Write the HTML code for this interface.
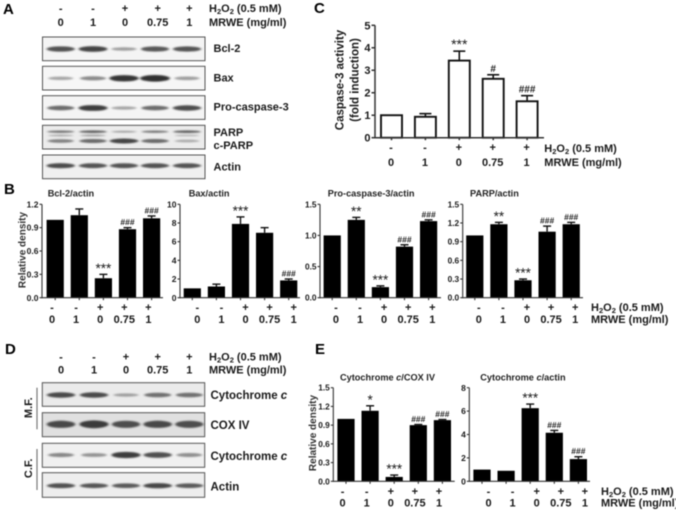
<!DOCTYPE html>
<html lang="en">
<head>
<meta charset="utf-8">
<title>Western blot and densitometry figure</title>
<style>
html,body{margin:0;padding:0;background:#fff;width:676px;height:510px;overflow:hidden}
svg{display:block;filter:blur(0.4px)}
text{font-family:"Liberation Sans",sans-serif;fill:#1a1a1a}
.b{font-weight:bold}
.l{font-weight:bold;font-size:11px}
.p{font-weight:bold;font-size:15px;fill:#000}
.t{font-weight:bold;font-size:9.2px;fill:#222}
.r{font-size:10px;font-weight:bold;fill:#333}
</style>
</head>
<body>
<svg id="fig" xmlns="http://www.w3.org/2000/svg" width="676" height="510" viewBox="0 0 676 510">
<defs>
<filter id="soft" x="-30%" y="-120%" width="160%" height="340%"><feGaussianBlur stdDeviation="1.4 0.9"/></filter>
</defs>

<g id="blots"></g>
<g id="charts"></g>

<text class="p" x="3" y="14">A</text>
<text class="p" x="4" y="194">B</text>
<text class="p" x="314" y="13">C</text>
<text class="p" x="5" y="354">D</text>
<text class="p" x="315" y="354">E</text>

<text class="l" x="209" y="12">H<tspan dy="2" font-size="7.5">2</tspan><tspan dy="-2">O</tspan><tspan dy="2" font-size="7.5">2</tspan><tspan dy="-2"> (0.5 mM)</tspan></text>
<text class="l" x="209" y="26">MRWE (mg/ml)</text>
<text class="l" x="213.5" y="52">Bcl-2</text>
<text class="l" x="213.5" y="81.5">Bax</text>
<text class="l" x="213.5" y="110.5">Pro-caspase-3</text>
<text class="l" x="213.5" y="136">PARP</text>
<text class="l" x="213.5" y="149">c-PARP</text>
<text class="l" x="213.5" y="170.5">Actin</text>

<text class="l" x="209" y="360.5">H<tspan dy="2" font-size="7.5">2</tspan><tspan dy="-2">O</tspan><tspan dy="2" font-size="7.5">2</tspan><tspan dy="-2"> (0.5 mM)</tspan></text>
<text class="l" x="209" y="373.5">MRWE (mg/ml)</text>
<text class="l" style="font-size:11.5px" x="210.5" y="399">Cytochrome <tspan font-style="italic">c</tspan></text>
<text class="l" style="font-size:11.5px" x="210.5" y="429">COX IV</text>
<text class="l" style="font-size:11.5px" x="210.5" y="460">Cytochrome <tspan font-style="italic">c</tspan></text>
<text class="l" style="font-size:11.5px" x="210.5" y="490.5">Actin</text>

<line x1="37" y1="387.7" x2="37" y2="429.3" stroke="#777" stroke-width="1.2"/>
<line x1="37" y1="449" x2="37" y2="490" stroke="#777" stroke-width="1.2"/>
<text class="l" text-anchor="middle" transform="translate(32,407.7) rotate(-90)">M.F.</text>
<text class="l" text-anchor="middle" transform="translate(32,468.3) rotate(-90)">C.F.</text>

<text class="t" x="47.7" y="196.7">Bcl-2/actin</text>
<text class="t" x="188.7" y="196.7">Bax/actin</text>
<text class="t" x="327.7" y="196.7">Pro-caspase-3/actin</text>
<text class="t" x="470" y="196.7">PARP/actin</text>
<text class="t" x="340" y="380.3">Cytochrome <tspan font-style="italic">c</tspan>/COX IV</text>
<text class="t" x="480.3" y="380.3">Cytochrome <tspan font-style="italic">c</tspan>/actin</text>

<text class="r" text-anchor="middle" transform="translate(25.5,250) rotate(-90)">Relative density</text>
<text class="r" text-anchor="middle" transform="translate(316,433) rotate(-90)">Relative density</text>
<text class="b" style="font-size:11.5px" text-anchor="middle" transform="translate(343.5,80) rotate(-90)">Caspase-3 activity</text>
<text class="b" style="font-size:11.5px" text-anchor="middle" transform="translate(358.5,80) rotate(-90)">(fold induction)</text>

<text class="l" x="544.3" y="152">H<tspan dy="2" font-size="7.5">2</tspan><tspan dy="-2">O</tspan><tspan dy="2" font-size="7.5">2</tspan><tspan dy="-2"> (0.5 mM)</tspan></text>
<text class="l" x="544.3" y="166">MRWE (mg/ml)</text>
<text class="l" x="591" y="311">H<tspan dy="2" font-size="7.5">2</tspan><tspan dy="-2">O</tspan><tspan dy="2" font-size="7.5">2</tspan><tspan dy="-2"> (0.5 mM)</tspan></text>
<text class="l" x="591" y="323">MRWE (mg/ml)</text>
<text class="l" x="601" y="495">H<tspan dy="2" font-size="7.5">2</tspan><tspan dy="-2">O</tspan><tspan dy="2" font-size="7.5">2</tspan><tspan dy="-2"> (0.5 mM)</tspan></text>
<text class="l" x="601" y="506.5">MRWE (mg/ml)</text>
</svg>

<script>
// Treatment categories
var h2o2Labels = ['-', '-', '+', '+', '+'];
var mrweLabels = ['0', '1', '0', '0.75', '1'];

// Panel C
var caspaseValues = [1, 0.93, 3.43, 2.62, 1.62];
var caspaseErrors = [0, 0.14, 0.42, 0.18, 0.25];
var caspaseMarks = ['', '', '***', '#', '###'];
var caspaseTicks = ['0', '1', '2', '3', '4', '5'];

// Panel B
var bcl2Values = [1, 1.06, 0.25, 0.88, 1.02];
var bcl2Errors = [0, 0.08, 0.05, 0.02, 0.03];
var bcl2Marks = ['', '', '***', '###', '###'];
var bcl2Ticks = ['0.0', '0.3', '0.6', '0.9', '1.2'];

var baxValues = [1, 1.2, 7.9, 6.95, 1.85];
var baxErrors = [0, 0.25, 0.75, 0.55, 0.15];
var baxMarks = ['', '', '***', '', '###'];
var baxTicks = ['0', '2', '4', '6', '8', '10'];

var procaspValues = [1, 1.25, 0.17, 0.82, 1.23];
var procaspErrors = [0, 0.04, 0.02, 0.03, 0.02];
var procaspMarks = ['', '**', '***', '###', '###'];
var procaspTicks = ['0.0', '0.5', '1.0', '1.5'];

var parpValues = [1, 1.18, 0.28, 1.06, 1.18];
var parpErrors = [0, 0.03, 0.02, 0.09, 0.03];
var parpMarks = ['', '**', '***', '###', '###'];
var parpTicks = ['0.0', '0.3', '0.6', '0.9', '1.2', '1.5'];

// Panel E
var cytcCoxValues = [1, 1.13, 0.07, 0.9, 0.98];
var cytcCoxErrors = [0, 0.08, 0.03, 0.01, 0.01];
var cytcCoxMarks = ['', '*', '***', '###', '###'];
var cytcCoxTicks = ['0.0', '0.3', '0.6', '0.9', '1.2', '1.5'];

var cytcActinValues = [1, 0.9, 6.25, 4.15, 1.9];
var cytcActinErrors = [0, 0, 0.35, 0.2, 0.2];
var cytcActinMarks = ['', '', '***', '###', '###'];
var cytcActinTicks = ['0', '2', '4', '6', '8'];

// Blot band strengths per lane (0-1)
var bandsBcl2 = [0.72, 0.8, 0.22, 0.68, 0.7];
var bandsBax = [0.18, 0.35, 0.9, 0.95, 0.22];
var bandsProcasp = [0.55, 0.85, 0.18, 0.55, 0.75];
var bandsParp = [0.5, 0.6, 0.2, 0.45, 0.6];
var bandsParpMid = [0.22, 0.28, 0, 0, 0.12];
var bandsCparp = [0.4, 0.55, 0.8, 0.55, 0.12];
var bandsActinA = [0.75, 0.7, 0.7, 0.7, 0.7];
var bandsCytoMf = [0.75, 0.75, 0.18, 0.5, 0.5];
var bandsCox = [0.75, 0.85, 0.72, 0.75, 0.72];
var bandsCytoCf = [0.35, 0.28, 0.85, 0.72, 0.3];
var bandsActinD = [0.72, 0.68, 0.65, 0.78, 0.65];

var NS = 'http://www.w3.org/2000/svg';

function mk(parent, tag, attrs, text) {
  var el = document.createElementNS(NS, tag);
  for (var k in attrs) el.setAttribute(k, attrs[k]);
  if (text !== undefined) el.textContent = text;
  parent.appendChild(el);
  return el;
}

function drawTreatmentRows(parent, centers, plusY, numY, size) {
  for (var i = 0; i < h2o2Labels.length; i++) {
    var sign = mk(parent, 'text', {x: centers[i], y: plusY, 'text-anchor': 'middle', 'font-weight': 'bold', 'font-size': size}, h2o2Labels[i]);
    
    
    var dose = mk(parent, 'text', {x: centers[i], y: numY, 'text-anchor': 'middle', 'font-weight': 'bold', 'font-size': size}, mrweLabels[i]);
    
    
  }
}

function drawBarChart(name, values, errors, marks, ticks, g) {
  var root = document.getElementById('charts');
  var panel = mk(root, 'g', {});
  
  

  var yMax = parseFloat(ticks[ticks.length - 1]);
  function yScale(v) { return g.y0 - v / yMax * (g.y0 - g.yTop); }
  function xBand(i) { return g.x1 + i * g.step; }
  var axisCol = '#333';

  ticks.forEach(function (t) {
    var y = yScale(parseFloat(t));
    var tk = mk(panel, 'line', {x1: g.axisX - g.tickLen, x2: g.axisX, y1: y, y2: y, stroke: axisCol, 'stroke-width': g.axisW});
    
    
    var lb = mk(panel, 'text', {x: g.axisX - g.tickLen - 1, y: y + g.tickFont * 0.36, 'text-anchor': 'end', 'font-weight': 'bold', 'font-size': g.tickFont}, t);
    
    
  });

  values.forEach(function (v, i) {
    var cx = xBand(i), top = yScale(v), errTop = yScale(v + errors[i]);
    var hw = g.barW / 2;
    if (errors[i] > 0) {
      var stem = mk(panel, 'line', {x1: cx, x2: cx, y1: top, y2: errTop, stroke: '#111', 'stroke-width': g.errW});
      
      
      var cap = mk(panel, 'line', {x1: cx - g.capW / 2, x2: cx + g.capW / 2, y1: errTop, y2: errTop, stroke: '#111', 'stroke-width': g.errW});
      
      
    }
    var bar;
    if (g.hollow) {
      bar = mk(panel, 'rect', {x: cx - hw + 1, y: top, width: g.barW - 2, height: g.y0 - top, fill: '#fff', stroke: '#111', 'stroke-width': 1.9});
    } else {
      bar = mk(panel, 'rect', {x: cx - hw, y: top, width: g.barW, height: g.y0 - top, fill: '#000'});
    }
    
    

    var tx = mk(panel, 'line', {x1: cx, x2: cx, y1: g.y0, y2: g.y0 + 2.5, stroke: axisCol, 'stroke-width': g.axisW});
    
    

    if (marks[i]) {
      var isHash = marks[i].charAt(0) === '#';
      var base = isHash ? errTop - g.hashGap : errTop - g.starGap;
      var m = mk(panel, 'text', {x: cx, y: base, 'text-anchor': 'middle', 'font-weight': isHash ? 'bold' : 'normal', 'font-size': isHash ? g.hashFont : g.starFont}, marks[i]);
      
      
    }
  });

  var ya = mk(panel, 'line', {x1: g.axisX, x2: g.axisX, y1: g.yTop, y2: g.y0 + g.axisW / 2, stroke: axisCol, 'stroke-width': g.axisW});
  
  
  var xa = mk(panel, 'line', {x1: g.axisX, x2: g.xEnd, y1: g.y0, y2: g.y0, stroke: axisCol, 'stroke-width': g.axisW});
  
  

  var centers = values.map(function (_, i) { return xBand(i) + g.labelShift; });
  drawTreatmentRows(panel, centers, g.plusY, g.numY, 11);
}

var smallChart = {step: 24.1, barW: 17.2, tickLen: 2.5, tickFont: 8.3, axisW: 1.1, errW: 1.4, capW: 8, hashGap: 2.5, starGap: 1.5, hashFont: 8.5, starFont: 13.5};
function geo(o) {
  var r = {};
  for (var k in smallChart) r[k] = smallChart[k];
  for (var j in o) r[j] = o[j];
  return r;
}

drawBarChart('caspase3', caspaseValues, caspaseErrors, caspaseMarks, caspaseTicks, geo({axisX: 375, y0: 137.7, yTop: 25.3, x1: 391.5, step: 33.9, barW: 23, xEnd: 544, labelShift: -0.5, plusY: 151, numY: 166, tickLen: 3.5, tickFont: 11, axisW: 1.5, errW: 1.6, capW: 12, hollow: true, hashGap: 3, hashFont: 10, starFont: 14, starGap: 2}));
drawBarChart('bcl2-actin', bcl2Values, bcl2Errors, bcl2Marks, bcl2Ticks, geo({axisX: 42, y0: 297.7, yTop: 204.3, x1: 55.2, xEnd: 163, labelShift: -3.2, plusY: 311, numY: 323, tickFont: 8.5}));
drawBarChart('bax-actin', baxValues, baxErrors, baxMarks, baxTicks, geo({axisX: 180, y0: 297.7, yTop: 204.3, x1: 192.3, xEnd: 300, labelShift: 5, plusY: 311, numY: 323, tickFont: 8.5}));
drawBarChart('procaspase3-actin', procaspValues, procaspErrors, procaspMarks, procaspTicks, geo({axisX: 320, y0: 297.7, yTop: 204.3, x1: 332.2, xEnd: 441, labelShift: 3.7, plusY: 311, numY: 323}));
drawBarChart('parp-actin', parpValues, parpErrors, parpMarks, parpTicks, geo({axisX: 462.7, y0: 297.7, yTop: 204.3, x1: 474.8, xEnd: 583, labelShift: 4, plusY: 311, numY: 323}));
drawBarChart('cytc-cox', cytcCoxValues, cytcCoxErrors, cytcCoxMarks, cytcCoxTicks, geo({axisX: 333.3, y0: 481.3, yTop: 387.7, x1: 346, xEnd: 454.7, labelShift: -3.4, plusY: 495, numY: 506.5}));
drawBarChart('cytc-actin', cytcActinValues, cytcActinErrors, cytcActinMarks, cytcActinTicks, geo({axisX: 469.3, y0: 481.3, yTop: 387.7, x1: 482, xEnd: 590, labelShift: 6.5, plusY: 495, numY: 506.5, tickFont: 8.5}));

// Western blots
function drawBlotBox(name, x, y, w, h, bg) {
  var root = document.getElementById('blots');
  var g = mk(root, 'g', {});
  
  
  var box = mk(g, 'rect', {x: x, y: y, width: w, height: h, fill: bg, stroke: 'none'});
  
  
  return g;
}
function finishBlotBox(g, x, y, w, h) {
  var frame = mk(g, 'rect', {x: x, y: y, width: w, height: h, fill: 'none', stroke: '#555', 'stroke-width': 1});
  
  
}
function drawBands(g, name, strengths, lanes, y, ryBase) {
  strengths.forEach(function (s, i) {
    if (s <= 0) return;
    var b = mk(g, 'ellipse', {cx: lanes[i], cy: y, rx: 12 + 3 * s, ry: ryBase * (0.42 + 0.65 * s), fill: '#262626', opacity: Math.min(0.95, 0.25 + 0.75 * s), filter: 'url(#soft)'});
    
    
  });
}

var lanesA = [60.7, 93, 124, 155, 187];
var lanesD = [61, 94, 126, 157.7, 189.3];

var gA1 = drawBlotBox('bcl2', 42.5, 37, 162.5, 23.7, '#f4f4f4');
drawBands(gA1, 'bcl2', bandsBcl2, lanesA, 49, 3);
finishBlotBox(gA1, 42.5, 37, 162.5, 23.7);
var gA2 = drawBlotBox('bax', 42.5, 66.3, 162.5, 23.7, '#f6f6f6');
drawBands(gA2, 'bax', bandsBax, lanesA, 78.3, 3.2);
finishBlotBox(gA2, 42.5, 66.3, 162.5, 23.7);
var gA3 = drawBlotBox('procaspase3', 42.5, 95.7, 162.5, 23.7, '#f4f4f4');
drawBands(gA3, 'procaspase3', bandsProcasp, lanesA, 108, 3);
finishBlotBox(gA3, 42.5, 95.7, 162.5, 23.7);
var gA4 = drawBlotBox('parp', 42.5, 125.3, 162.5, 23.7, '#ececec');
drawBands(gA4, 'parp', bandsParp, lanesA, 131.7, 1.6);
drawBands(gA4, 'parp-mid', bandsParpMid, lanesA, 135.5, 1.3);
drawBands(gA4, 'cparp', bandsCparp, lanesA, 141, 2.6);
finishBlotBox(gA4, 42.5, 125.3, 162.5, 23.7);
var gA5 = drawBlotBox('actin', 42.5, 155, 162.5, 23.7, '#f0f0f0');
drawBands(gA5, 'actin', bandsActinA, lanesA, 165.7, 2.8);
finishBlotBox(gA5, 42.5, 155, 162.5, 23.7);

var gD1 = drawBlotBox('mf-cytochrome-c', 42.3, 382.7, 162.4, 23.6, '#ebebeb');
drawBands(gD1, 'mf-cytochrome-c', bandsCytoMf, lanesD, 395, 3);
finishBlotBox(gD1, 42.3, 382.7, 162.4, 23.6);
var gD2 = drawBlotBox('cox-iv', 42.3, 412.7, 162.4, 24, '#e0e0e0');
drawBands(gD2, 'cox-iv', bandsCox, lanesD, 424.3, 4);
finishBlotBox(gD2, 42.3, 412.7, 162.4, 24);
var gD3 = drawBlotBox('cf-cytochrome-c', 42.3, 443.3, 162.4, 24, '#f0f0f0');
drawBands(gD3, 'cf-cytochrome-c', bandsCytoCf, lanesD, 455, 3.2);
finishBlotBox(gD3, 42.3, 443.3, 162.4, 24);
var gD4 = drawBlotBox('d-actin', 42.3, 472.7, 162.4, 24.6, '#eeeeee');
drawBands(gD4, 'd-actin', bandsActinD, lanesD, 485.7, 2.8);
finishBlotBox(gD4, 42.3, 472.7, 162.4, 24.6);

var topA = mk(document.getElementById('blots'), 'g', {});


drawTreatmentRows(topA, [60.7, 93, 125, 157.7, 189.3], 12, 26, 11);
var topD = mk(document.getElementById('blots'), 'g', {});


drawTreatmentRows(topD, lanesD, 360.5, 373.5, 11);
</script>
</body>
</html>
